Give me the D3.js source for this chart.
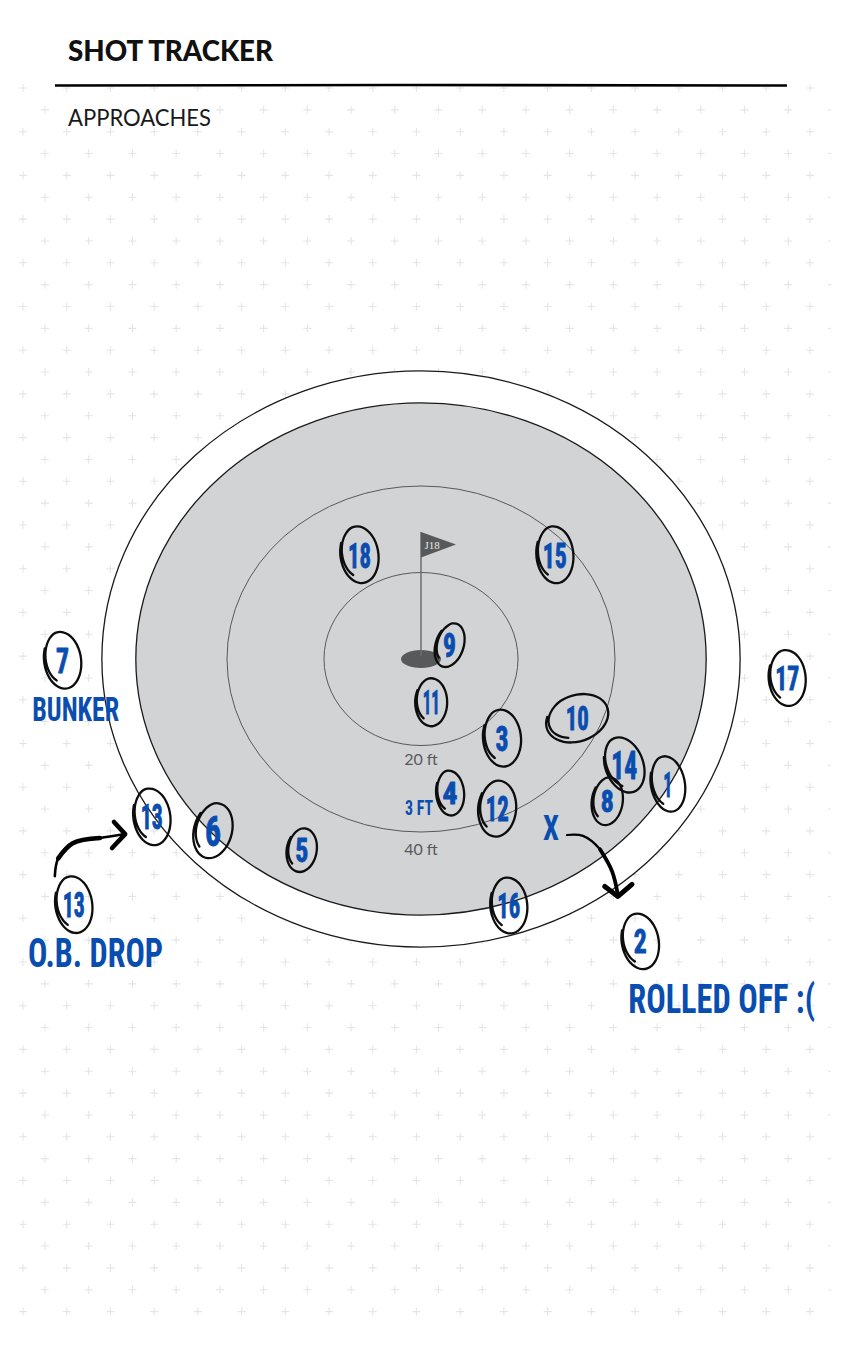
<!DOCTYPE html>
<html><head><meta charset="utf-8">
<script src="https://cdn.jsdelivr.net/npm/d3@7"></script>
<style>html,body{margin:0;padding:0;background:#fff}svg{display:block}</style>
</head><body><svg id="c" width="844" height="1350"></svg>
<script>
// Shot data, in feet from the pin (x right, y up)
const holes  = ["1","2","3","4","5","6","7","8","9","10","11","12","13","13","14","15","16","17","18"];
const shotX  = [50.9,45.2,16.7,6.0,-24.6,-42.9,-73.9,38.4,5.9,32.2,2.1,15.7,-55.5,-71.6,41.9,27.6,18.1,75.5,-12.7];
const shotY  = [-28.9,-65.3,-18.3,-31.0,-44.2,-39.7,-0.3,-32.9,3.2,-13.7,-10.0,-34.6,-36.5,-56.8,-24.5,24.1,-57.0,-4.4,24.1];
const distanceRings = [20,40];
const ringLabels = ["20 ft","40 ft"];
const ringLabelY = [-23.1,-44];
const noteText = ["BUNKER","O.B. DROP","ROLLED OFF :(","X","3 FT"];
const noteX = [-71.2,-67.1,62.0,26.8,-0.4];
const noteY = [-11.4,-67.7,-78.5,-39.0,-34.5];
const rollArrowX = [30.1,33.4,36.9,39.4,40.6];
const rollArrowY = [-40.7,-40.9,-44.0,-49.1,-54.6];
const rollHeadX = [37.9,40.6,43.5];
const rollHeadY = [-52.6,-54.9,-52.1];
const dropArrowX = [-75.5,-74.8,-71.8,-66.2,-61.4];
const dropArrowY = [-50.2,-46.1,-42.6,-41.4,-40.5];
const dropHeadX = [-63.3,-61.0,-63.7];
const dropHeadY = [-37.7,-40.5,-43.7];

// Styling tables, separate from the data
const BLUE="#0a4db0", HAND='"Roboto Condensed","Liberation Sans Narrow","Liberation Sans",sans-serif';
const loopW=[17,18.5,19,14,15,19,18.5,15.5,14,32,16,19,18.5,18.5,19,18.5,18.5,18.5,19];
const loopH=[28,28,28.5,22.5,22,28,28.5,24,22.5,23,24,28,28.5,28.5,28.5,28.5,28,28,28.5];
const loopTilt=[-10,-10,-5,-5,10,15,-8,8,18,-20,0,5,-8,-8,-20,-5,-5,-5,-8];
const numSize=[35,33,35,31,33,42,35,31,34,33,33,35,35,35,38,36,36,33,36];
const numWidth=[9,13,13,15,13,16,13,13,13,23,17,23,22,22,26,24,23,24,23];
const noteSize=[34,41,41,35,20];
const noteLen=[87,135,187,16,28];

const svg=d3.select("#c");
const x=d3.scaleLinear().domain([0,20]).range([421,518]);
const y=d3.scaleLinear().domain([0,20]).range([659,572.5]);

// fits a text horizontally to a target width by scaling its glyphs
function fit(sel,px,py,target){
  const len=sel.node().getComputedTextLength();
  sel.attr("transform",`translate(${px},${py}) scale(${target/len},1)`);
}

// dotted plus background
svg.append("clipPath").attr("id","gridClip").append("rect").attr("x",0).attr("y",0).attr("width",831).attr("height",1350);
const bg=svg.append("g").attr("clip-path","url(#gridClip)").attr("stroke","#e4e5e6").attr("stroke-width",1.1);
d3.range(57).forEach(r=>{
  const py=88+r*21.85, off=r%2?45:23;
  d3.range(19).forEach(c=>{
    const px=off+c*43.72;
    bg.append("path").attr("d",`M${px-4},${py}H${px+4}M${px},${py-4}V${py+4}`);
  });
});

// header
svg.append("rect").attr("x",60).attr("y",100).attr("width",155).attr("height",28).attr("fill","#fff");
svg.append("text").text("SHOT TRACKER").attr("x",68).attr("y",61)
  .attr("font-family","Lato").attr("font-weight",900).attr("font-size",28)
  .attr("textLength",205).attr("lengthAdjust","spacingAndGlyphs").attr("fill","#111");
svg.append("path").attr("d","M55,85.5L400,85L787,85.5").attr("stroke","#000").attr("stroke-width",2.6).attr("fill","none");
svg.append("text").text("APPROACHES").attr("x",68).attr("y",126)
  .attr("font-family","Lato").attr("font-size",22.5)
  .attr("textLength",143).attr("lengthAdjust","spacingAndGlyphs").attr("fill","#1a1a1a");

// green
const ell=(rx,ry,fill,stroke,w)=>svg.append("ellipse").attr("cx",x(0)).attr("cy",y(0))
  .attr("rx",x(rx)-x(0)).attr("ry",y(0)-y(ry)).attr("fill",fill).attr("stroke",stroke).attr("stroke-width",w);
ell(65.8,66.6,"#fff","#1a1a1a",1.3);
ell(58.8,59.2,"#d1d3d4","#1a1a1a",1.3);
distanceRings.slice().reverse().forEach(d=>ell(d,d,"none","#58595b",1));

svg.selectAll("text.ring").data(ringLabels).join("text").attr("class","ring").text(d=>d)
  .attr("x",x(0)).attr("y",(d,i)=>y(ringLabelY[i])).attr("dy","0.35em").attr("text-anchor","middle")
  .attr("font-family","Lato").attr("font-size",16).attr("fill","#58595b");

// flag
svg.append("ellipse").attr("cx",x(0)).attr("cy",y(0)).attr("rx",20).attr("ry",9).attr("fill","#58595b");
svg.append("line").attr("x1",x(0)).attr("x2",x(0)).attr("y1",y(0)-3).attr("y2",y(0)-127).attr("stroke","#6d6e71").attr("stroke-width",1.5);
svg.append("path").attr("d",`M${x(0)},${y(0)-127}L${x(0)+35},${y(0)-114.5}L${x(0)},${y(0)-101.5}Z`).attr("fill","#58595b");
svg.append("text").text("J18").attr("x",x(0)+3.5).attr("y",y(0)-110).attr("font-family","Liberation Serif").attr("font-size",11).attr("fill","#e6e7e8");

// shot loops
const lineGen=d3.line().curve(d3.curveCatmullRom);
const loopPts=(w,h)=>d3.range(0,29).map(k=>{
  const a=(125+k*(445/28))*Math.PI/180;
  const s=k<8?0.82+0.18*k/8:1;
  return [Math.cos(a)*w*s,Math.sin(a)*h*s];
});
holes.forEach((h,i)=>{
  const g=svg.append("g").attr("transform",`translate(${x(shotX[i])},${y(shotY[i])})`);
  g.append("path").attr("d",lineGen(loopPts(loopW[i],loopH[i]))).attr("transform",`rotate(${loopTilt[i]})`)
    .attr("fill","none").attr("stroke","#0d0d0d").attr("stroke-width",2.3).attr("stroke-linecap","round");
  const t=g.append("text").text(h).attr("text-anchor","middle").attr("dy","0.36em")
    .attr("font-family",HAND).attr("font-weight",700).attr("font-size",numSize[i]).attr("fill",BLUE)
    .attr("stroke",BLUE).attr("stroke-width",0.9).attr("stroke-linejoin","round");
  fit(t,0,0,numWidth[i]);
});

// notes
noteText.forEach((d,i)=>{
  const t=svg.append("text").attr("class","note").text(d).attr("dy","0.36em").attr("text-anchor","middle")
    .attr("font-family",HAND).attr("font-weight",700).attr("font-size",noteSize[i]).attr("fill",BLUE);
  fit(t,x(noteX[i]),y(noteY[i]),noteLen[i]);
});

// arrows
const curve=d3.line().x(p=>x(p[0])).y(p=>y(p[1])).curve(d3.curveCatmullRom);
const head=d3.line().x(p=>x(p[0])).y(p=>y(p[1])).curve(d3.curveLinear);
function arrow(ax,ay,hx,hy,w,from,to,thick,hw){
  const pts=ax.map((v,i)=>[v,ay[i]]);
  const stroke=(d,sw)=>svg.append("path").attr("d",d).attr("fill","none").attr("stroke","#000").attr("stroke-width",sw).attr("stroke-linecap","round").attr("stroke-linejoin","round");
  stroke(curve(pts),w);
  stroke(curve(pts.slice(from,to)),thick);
  stroke(head(hx.map((v,i)=>[v,hy[i]])),hw);
}
arrow(rollArrowX,rollArrowY,rollHeadX,rollHeadY,2.2,2,5,3.8,5);
arrow(dropArrowX,dropArrowY,dropHeadX,dropHeadY,2.6,1,4,4.6,4.6);
</script></body></html>
